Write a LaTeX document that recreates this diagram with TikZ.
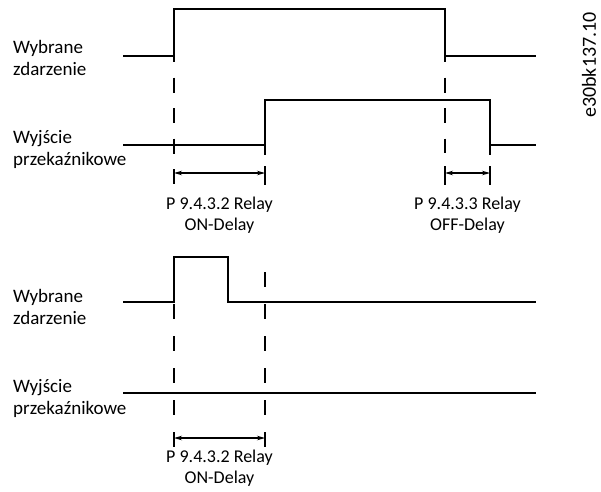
\documentclass[tikz,border=0pt]{standalone}
\usepackage{fontspec}
\setmainfont{Carlito}
\usetikzlibrary{arrows.meta}
\begin{document}
\begin{tikzpicture}[x=1pt,y=-1pt,
  wave/.style={line width=1.1pt},
  guide/.style={line width=1.1pt,dash pattern=on 15pt off 15.5pt},
  guideb/.style={line width=1.1pt,dash pattern=on 15pt off 17pt},
  tick/.style={line width=1.1pt},
  dim/.style={line width=1.1pt,{Stealth[length=8pt,width=4.5pt]}-{Stealth[length=8pt,width=4.5pt]}},
  lbl/.style={anchor=base west,inner sep=0pt,align=left,font=\fontsize{19}{22}\selectfont},
  captxt/.style={anchor=base,inner sep=0pt,align=center,font=\fontsize{18}{21}\selectfont}]
\useasboundingbox (0,0) rectangle (601,491);
% top diagram
\coordinate (a0) at (123,56);
\coordinate (a1) at (174,56);
\coordinate (a2) at (174,9);
\coordinate (a3) at (445,9);
\coordinate (a4) at (445,56);
\coordinate (a5) at (536,56);
\draw[wave] (a0) -- (a1) -- (a2) -- (a3) -- (a4) -- (a5);
\coordinate (b0) at (123,145);
\coordinate (b1) at (265,145);
\coordinate (b2) at (265,100);
\coordinate (b3) at (490,100);
\coordinate (b4) at (490,145);
\coordinate (b5) at (536,145);
\draw[wave] (b0) -- (b1) -- (b2) -- (b3) -- (b4) -- (b5);
\coordinate (g1t) at (174,47);
\coordinate (g1b) at (174,185);
\draw[guide] (g1t) -- (g1b);
\coordinate (g2t) at (445,47);
\coordinate (g2b) at (445,153);
\draw[guide] (g2t) -- (g2b);
\coordinate (t1t) at (265,145);
\coordinate (t1b) at (265,155);
\draw[tick] (t1t) -- (t1b);
\coordinate (t2t) at (490,145);
\coordinate (t2b) at (490,155);
\draw[tick] (t2t) -- (t2b);
% dimension ticks and arrows
\coordinate (d1t) at (265,166); \coordinate (d1b) at (265,185);
\draw[tick] (d1t) -- (d1b);
\coordinate (d2t) at (445,166); \coordinate (d2b) at (445,185);
\draw[tick] (d2t) -- (d2b);
\coordinate (d3t) at (490,166); \coordinate (d3b) at (490,185);
\draw[tick] (d3t) -- (d3b);
\coordinate (r1a) at (174,173); \coordinate (r1b) at (265,173);
\draw[dim] (r1a) -- (r1b);
\coordinate (r2a) at (445,173); \coordinate (r2b) at (490,173);
\draw[dim] (r2a) -- (r2b);
\node[lbl] (l1) at (13,75.5) {Wybrane\\zdarzenie};
\node[lbl] (l2) at (13,165) {Wyjście\\przekaźnikowe};
\node[captxt] (c1) at (219.5,230) {P 9.4.3.2 Relay\\ON-Delay};
\node[captxt] (c2) at (467.5,230) {P 9.4.3.3 Relay\\OFF-Delay};
\node[rotate=90,inner sep=0pt,font=\fontsize{20}{22}\selectfont] (code) at (589,65) {e30bk137.10};
% bottom diagram
\coordinate (e0) at (123,302);
\coordinate (e1) at (174,302);
\coordinate (e2) at (174,257);
\coordinate (e3) at (228,257);
\coordinate (e4) at (228,302);
\coordinate (e5) at (536,302);
\draw[wave] (e0) -- (e1) -- (e2) -- (e3) -- (e4) -- (e5);
\coordinate (f0) at (123,393);
\coordinate (f1) at (536,393);
\draw[wave] (f0) -- (f1);
\coordinate (g3t) at (174,272);
\coordinate (g3b) at (174,448);
\draw[guideb] (g3t) -- (g3b);
\coordinate (g4t) at (265,272);
\coordinate (g4b) at (265,448);
\draw[guideb] (g4t) -- (g4b);
\coordinate (r3a) at (174,438); \coordinate (r3b) at (265,438);
\draw[dim] (r3a) -- (r3b);
\node[lbl] (l3) at (13,324.5) {Wybrane\\zdarzenie};
\node[lbl] (l4) at (13,414) {Wyjście\\przekaźnikowe};
\node[captxt] (c3) at (219.5,483) {P 9.4.3.2 Relay\\ON-Delay};
\end{tikzpicture}
\end{document}
